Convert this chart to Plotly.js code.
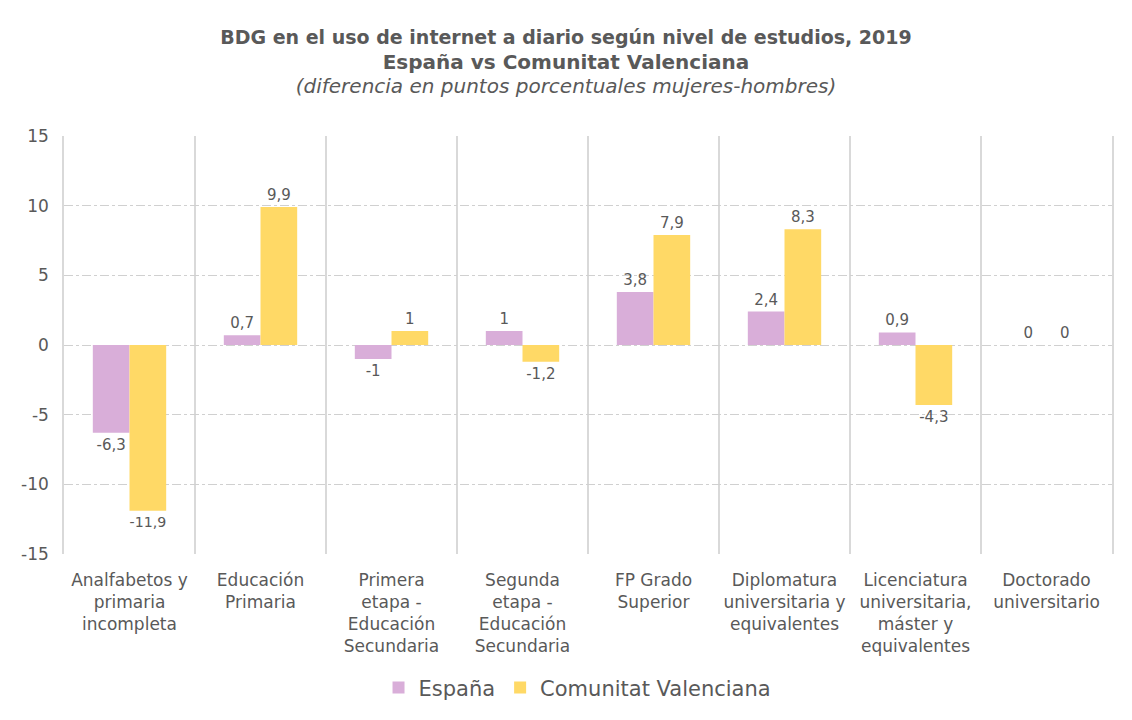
<!DOCTYPE html>
<html>
<head>
<meta charset="utf-8">
<script src="https://cdn.plot.ly/plotly-3.0.1.min.js"></script>
<style>html,body{margin:0;padding:0;background:#fff;}#chart{width:1132px;height:720px;}</style>
</head>
<body>
<div id="chart"></div>
<script>
const categories = [
  "Analfabetos y<br>primaria<br>incompleta",
  "Educación<br>Primaria",
  "Primera<br>etapa -<br>Educación<br>Secundaria",
  "Segunda<br>etapa -<br>Educación<br>Secundaria",
  "FP Grado<br>Superior",
  "Diplomatura<br>universitaria y<br>equivalentes",
  "Licenciatura<br>universitaria,<br>máster y<br>equivalentes",
  "Doctorado<br>universitario"
];
const espana = [-6.3, 0.7, -1, 1, 3.8, 2.4, 0.9, 0];
const valenciana = [-11.9, 9.9, 1, -1.2, 7.9, 8.3, -4.3, 0];
const tickVals = [15, 10, 5, 0, -5, -10, -15];
const tickText = ["15", "10", "5", "0", "-5", "-10", "-15"];

const fmt = v => String(v).replace('.', ',');
const FONT = '"DejaVu Sans", sans-serif';
const GREY = '#595959';

const traces = [
  {type:'bar', name:'España', x:categories, y:espana, marker:{color:'#D9AED9'},
   text:espana.map(fmt), textposition:'outside', cliponaxis:false,
   textfont:{size:15, color:GREY, family:FONT}},
  {type:'bar', name:'Comunitat Valenciana', x:categories, y:valenciana, marker:{color:'#FFD966'},
   text:valenciana.map(fmt), textposition:'outside', cliponaxis:false,
   textfont:{size:15, color:GREY, family:FONT}}
];

const layout = {
  width:1132, height:720,
  margin:{l:64, r:20, t:136, b:164},
  paper_bgcolor:'#fff', plot_bgcolor:'#fff',
  font:{family:FONT, color:GREY, size:15},
  title:{
    text:'<b>BDG en el uso de internet a diario según nivel de estudios, 2019</b><br><b><span style="font-size:20px">España vs Comunitat Valenciana</span></b><br><span style="font-size:20px"><i>(diferencia en puntos porcentuales mujeres-hombres)</i></span>',
    x:0.5, xanchor:'center', yref:'container', y:1-44/720, yanchor:'top',
    font:{family:FONT, size:19, color:GREY}
  },
  barmode:'group', bargap:0.44, bargroupgap:0,
  xaxis:{type:'category', tickson:'boundaries', showgrid:true, gridcolor:'#d9d9d9', gridwidth:1.5,
         ticks:'', showline:false, zeroline:false, automargin:false, ticklabelstandoff:14,
         tickfont:{size:17, color:GREY}},
  yaxis:{range:[-15,15], tickvals:tickVals, ticktext:tickText, showgrid:true, gridcolor:'#d0d0d0',
         griddash:'dashdot', gridwidth:1, zeroline:false, ticks:'', automargin:false,
         showline:true, mirror:true, linecolor:'#d9d9d9', linewidth:1.5, ticklabelstandoff:10,
         tickfont:{size:17, color:GREY}},
  legend:{orientation:'h', x:0.49, xanchor:'center', y:-0.32, yanchor:'middle',
          font:{size:21, color:GREY}, itemwidth:30},
  showlegend:true
};
Plotly.newPlot('chart', traces, layout, {displayModeBar:false});
</script>
</body>
</html>
